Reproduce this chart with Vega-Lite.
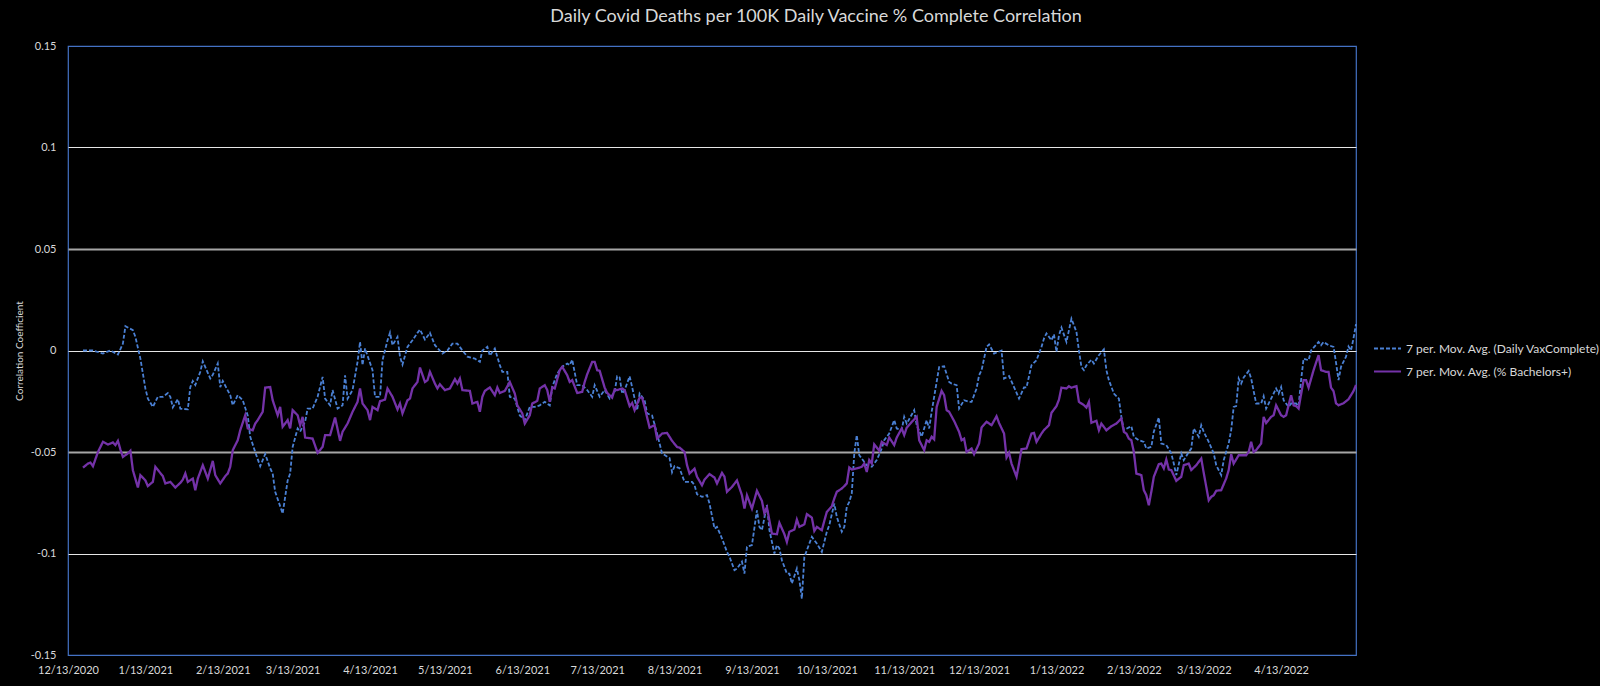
{
"$schema": "https://vega.github.io/schema/vega-lite/v6.json",
"width": 1288, "height": 609,
"autosize": "none",
"padding": {"left": 68, "top": 46, "right": 244, "bottom": 31},
"background": "#000000",
"title": {"text": "Daily Covid Deaths per 100K Daily Vaccine % Complete Correlation", "color": "#d9d9d9", "fontSize": 18, "font": "Lato", "fontWeight": "normal", "anchor": "middle", "dx": 104, "offset": 14},
"config": {"view": {"stroke": "#4472C4", "strokeWidth": 1.2}, "font": "Lato"},
"datasets": {
"vax": [
{"date":"2020-12-19","v":0},{"date":"2020-12-23","v":0},{"date":"2020-12-27","v":-0.0015},{"date":"2020-12-30","v":0},
{"date":"2021-01-02","v":-0.002},{"date":"2021-01-04","v":0.0034},{"date":"2021-01-05","v":0.012},{"date":"2021-01-08","v":0.010},{"date":"2021-01-09","v":0.0067},{"date":"2021-01-11","v":-0.004},{"date":"2021-01-13","v":-0.0187},{"date":"2021-01-14","v":-0.0237},{"date":"2021-01-16","v":-0.0278},{"date":"2021-01-18","v":-0.0228},{"date":"2021-01-20","v":-0.0228},{"date":"2021-01-22","v":-0.021},{"date":"2021-01-23","v":-0.0228},{"date":"2021-01-24","v":-0.028},{"date":"2021-01-26","v":-0.024},{"date":"2021-01-27","v":-0.0286},{"date":"2021-01-30","v":-0.029},{"date":"2021-01-31","v":-0.018},
{"date":"2021-02-01","v":-0.015},{"date":"2021-02-02","v":-0.017},{"date":"2021-02-04","v":-0.0105},{"date":"2021-02-05","v":-0.0053},{"date":"2021-02-08","v":-0.0138},{"date":"2021-02-09","v":-0.012},{"date":"2021-02-11","v":-0.0064},{"date":"2021-02-12","v":-0.018},{"date":"2021-02-13","v":-0.015},{"date":"2021-02-16","v":-0.022},{"date":"2021-02-17","v":-0.027},{"date":"2021-02-19","v":-0.022},{"date":"2021-02-21","v":-0.0245},{"date":"2021-02-23","v":-0.032},{"date":"2021-02-24","v":-0.0425},{"date":"2021-02-26","v":-0.05},{"date":"2021-02-28","v":-0.057},
{"date":"2021-03-02","v":-0.051},{"date":"2021-03-04","v":-0.058},{"date":"2021-03-05","v":-0.0606},{"date":"2021-03-06","v":-0.0696},{"date":"2021-03-09","v":-0.0803},{"date":"2021-03-11","v":-0.064},{"date":"2021-03-12","v":-0.0606},{"date":"2021-03-13","v":-0.0475},{"date":"2021-03-15","v":-0.0384},{"date":"2021-03-16","v":-0.040},{"date":"2021-03-18","v":-0.035},{"date":"2021-03-19","v":-0.0286},{"date":"2021-03-21","v":-0.0286},{"date":"2021-03-23","v":-0.0228},{"date":"2021-03-25","v":-0.013},{"date":"2021-03-26","v":-0.0237},{"date":"2021-03-28","v":-0.027},{"date":"2021-03-29","v":-0.0195},{"date":"2021-03-31","v":-0.0286},
{"date":"2021-04-02","v":-0.027},{"date":"2021-04-03","v":-0.0122},{"date":"2021-04-04","v":-0.0237},{"date":"2021-04-06","v":-0.0195},{"date":"2021-04-08","v":-0.0056},{"date":"2021-04-09","v":0.0042},{"date":"2021-04-10","v":-0.0072},{"date":"2021-04-11","v":0.001},{"date":"2021-04-14","v":-0.0097},{"date":"2021-04-15","v":-0.0228},{"date":"2021-04-17","v":-0.0228},{"date":"2021-04-18","v":-0.0048},{"date":"2021-04-20","v":0.005},{"date":"2021-04-21","v":0.0088},{"date":"2021-04-22","v":0.0026},{"date":"2021-04-24","v":0.0067},{"date":"2021-04-25","v":-0.0031},{"date":"2021-04-26","v":-0.007},{"date":"2021-04-28","v":0.0018},{"date":"2021-04-30","v":0.005},
{"date":"2021-05-02","v":0.0087},{"date":"2021-05-03","v":0.0103},{"date":"2021-05-05","v":0.0054},{"date":"2021-05-07","v":0.0087},{"date":"2021-05-09","v":0.0026},{"date":"2021-05-12","v":-0.0015},{"date":"2021-05-14","v":0},{"date":"2021-05-16","v":0.0034},{"date":"2021-05-18","v":0.0034},{"date":"2021-05-20","v":0},{"date":"2021-05-22","v":-0.003},{"date":"2021-05-25","v":-0.004},{"date":"2021-05-27","v":-0.0056},{"date":"2021-05-28","v":0},{"date":"2021-05-30","v":0.0018},{"date":"2021-05-31","v":-0.0025},
{"date":"2021-06-02","v":0.001},{"date":"2021-06-04","v":-0.0072},{"date":"2021-06-05","v":-0.0105},{"date":"2021-06-07","v":-0.0105},{"date":"2021-06-08","v":-0.0228},{"date":"2021-06-10","v":-0.0237},{"date":"2021-06-12","v":-0.032},{"date":"2021-06-14","v":-0.0343},{"date":"2021-06-16","v":-0.0278},{"date":"2021-06-18","v":-0.0278},{"date":"2021-06-20","v":-0.027},{"date":"2021-06-22","v":-0.0253},{"date":"2021-06-24","v":-0.027},{"date":"2021-06-25","v":-0.018},{"date":"2021-06-27","v":-0.0113},{"date":"2021-06-29","v":-0.008},
{"date":"2021-07-01","v":-0.0064},{"date":"2021-07-02","v":-0.0072},{"date":"2021-07-03","v":-0.0045},{"date":"2021-07-05","v":-0.0171},{"date":"2021-07-07","v":-0.0171},{"date":"2021-07-09","v":-0.0195},{"date":"2021-07-11","v":-0.0228},{"date":"2021-07-12","v":-0.0171},{"date":"2021-07-14","v":-0.0228},{"date":"2021-07-16","v":-0.0195},{"date":"2021-07-18","v":-0.0237},{"date":"2021-07-20","v":-0.0205},{"date":"2021-07-21","v":-0.0127},{"date":"2021-07-22","v":-0.0133},{"date":"2021-07-23","v":-0.0212},{"date":"2021-07-24","v":-0.0195},{"date":"2021-07-26","v":-0.0127},{"date":"2021-07-27","v":-0.018},{"date":"2021-07-29","v":-0.0294},{"date":"2021-07-30","v":-0.0212},
{"date":"2021-08-01","v":-0.0245},{"date":"2021-08-02","v":-0.031},{"date":"2021-08-04","v":-0.032},{"date":"2021-08-06","v":-0.041},{"date":"2021-08-08","v":-0.0507},{"date":"2021-08-11","v":-0.053},{"date":"2021-08-12","v":-0.06},{"date":"2021-08-13","v":-0.057},{"date":"2021-08-15","v":-0.058},{"date":"2021-08-17","v":-0.0647},{"date":"2021-08-20","v":-0.0647},{"date":"2021-08-21","v":-0.0663},{"date":"2021-08-22","v":-0.0708},{"date":"2021-08-24","v":-0.0721},{"date":"2021-08-26","v":-0.0713},{"date":"2021-08-27","v":-0.0754},{"date":"2021-08-29","v":-0.0877},{"date":"2021-08-30","v":-0.0869},
{"date":"2021-09-01","v":-0.0926},{"date":"2021-09-03","v":-0.0992},{"date":"2021-09-04","v":-0.1016},{"date":"2021-09-06","v":-0.1082},{"date":"2021-09-07","v":-0.1074},{"date":"2021-09-09","v":-0.104},{"date":"2021-09-10","v":-0.1099},{"date":"2021-09-11","v":-0.0967},{"date":"2021-09-13","v":-0.0959},{"date":"2021-09-15","v":-0.0787},{"date":"2021-09-16","v":-0.0869},{"date":"2021-09-17","v":-0.0885},{"date":"2021-09-19","v":-0.0762},{"date":"2021-09-20","v":-0.0885},{"date":"2021-09-22","v":-0.1},{"date":"2021-09-23","v":-0.0959},{"date":"2021-09-24","v":-0.0975},{"date":"2021-09-25","v":-0.1033},{"date":"2021-09-27","v":-0.1099},{"date":"2021-09-28","v":-0.1099},{"date":"2021-09-29","v":-0.1148},
{"date":"2021-10-01","v":-0.1074},{"date":"2021-10-02","v":-0.1131},{"date":"2021-10-03","v":-0.1222},{"date":"2021-10-04","v":-0.1017},{"date":"2021-10-05","v":-0.0984},{"date":"2021-10-07","v":-0.0918},{"date":"2021-10-09","v":-0.0951},{"date":"2021-10-11","v":-0.0992},{"date":"2021-10-13","v":-0.0893},{"date":"2021-10-14","v":-0.086},{"date":"2021-10-16","v":-0.0754},{"date":"2021-10-17","v":-0.082},{"date":"2021-10-19","v":-0.0893},{"date":"2021-10-20","v":-0.0869},{"date":"2021-10-21","v":-0.077},{"date":"2021-10-22","v":-0.0746},{"date":"2021-10-23","v":-0.0704},{"date":"2021-10-24","v":-0.0507},{"date":"2021-10-25","v":-0.0417},{"date":"2021-10-26","v":-0.0516},{"date":"2021-10-27","v":-0.0532},{"date":"2021-10-29","v":-0.0565},{"date":"2021-10-31","v":-0.0573},
{"date":"2021-11-01","v":-0.0557},{"date":"2021-11-02","v":-0.054},{"date":"2021-11-04","v":-0.0483},{"date":"2021-11-05","v":-0.0442},{"date":"2021-11-07","v":-0.0409},{"date":"2021-11-09","v":-0.0343},{"date":"2021-11-10","v":-0.0384},{"date":"2021-11-12","v":-0.0392},{"date":"2021-11-13","v":-0.0327},{"date":"2021-11-14","v":-0.036},{"date":"2021-11-17","v":-0.0294},{"date":"2021-11-18","v":-0.0368},{"date":"2021-11-20","v":-0.0425},{"date":"2021-11-22","v":-0.0343},{"date":"2021-11-23","v":-0.0384},{"date":"2021-11-24","v":-0.0302},{"date":"2021-11-26","v":-0.0155},{"date":"2021-11-27","v":-0.0081},{"date":"2021-11-29","v":-0.0078},
{"date":"2021-12-01","v":-0.0155},{"date":"2021-12-02","v":-0.0163},{"date":"2021-12-04","v":-0.0171},{"date":"2021-12-05","v":-0.0286},{"date":"2021-12-07","v":-0.0245},{"date":"2021-12-09","v":-0.0253},{"date":"2021-12-10","v":-0.0253},{"date":"2021-12-12","v":-0.0187},{"date":"2021-12-13","v":-0.0122},{"date":"2021-12-14","v":-0.0097},{"date":"2021-12-16","v":0.0018},{"date":"2021-12-17","v":0.003},{"date":"2021-12-19","v":-0.0015},{"date":"2021-12-22","v":0},{"date":"2021-12-23","v":-0.0138},{"date":"2021-12-25","v":-0.0126},{"date":"2021-12-27","v":-0.018},{"date":"2021-12-29","v":-0.0237},{"date":"2021-12-31","v":-0.0182},
{"date":"2022-01-01","v":-0.0182},{"date":"2022-01-03","v":-0.0072},{"date":"2022-01-05","v":-0.0048},{"date":"2022-01-07","v":0.0018},{"date":"2022-01-08","v":0.0059},{"date":"2022-01-09","v":0.0084},{"date":"2022-01-11","v":0.005},{"date":"2022-01-12","v":0.008},{"date":"2022-01-13","v":-0.0007},{"date":"2022-01-14","v":0.0075},{"date":"2022-01-15","v":0.0113},{"date":"2022-01-17","v":0.0042},{"date":"2022-01-19","v":0.0157},{"date":"2022-01-21","v":0.0092},{"date":"2022-01-22","v":0},{"date":"2022-01-23","v":-0.0081},{"date":"2022-01-24","v":-0.0097},{"date":"2022-01-25","v":-0.0073},{"date":"2022-01-27","v":-0.0045},{"date":"2022-01-28","v":-0.0064},{"date":"2022-01-30","v":-0.0023},
{"date":"2022-02-01","v":0.0006},{"date":"2022-02-02","v":-0.0097},{"date":"2022-02-03","v":-0.0146},{"date":"2022-02-05","v":-0.0212},{"date":"2022-02-07","v":-0.0237},{"date":"2022-02-08","v":-0.0327},{"date":"2022-02-09","v":-0.0392},{"date":"2022-02-12","v":-0.0373},{"date":"2022-02-13","v":-0.0425},{"date":"2022-02-15","v":-0.0442},{"date":"2022-02-17","v":-0.045},{"date":"2022-02-18","v":-0.0483},{"date":"2022-02-20","v":-0.0475},{"date":"2022-02-21","v":-0.04},{"date":"2022-02-23","v":-0.033},{"date":"2022-02-24","v":-0.0458},{"date":"2022-02-26","v":-0.0466},{"date":"2022-02-28","v":-0.0507},
{"date":"2022-03-01","v":-0.0557},{"date":"2022-03-02","v":-0.0614},{"date":"2022-03-04","v":-0.0507},{"date":"2022-03-05","v":-0.054},{"date":"2022-03-07","v":-0.05},{"date":"2022-03-08","v":-0.0483},{"date":"2022-03-09","v":-0.0384},{"date":"2022-03-11","v":-0.0425},{"date":"2022-03-12","v":-0.0368},{"date":"2022-03-13","v":-0.0401},{"date":"2022-03-15","v":-0.045},{"date":"2022-03-17","v":-0.0507},{"date":"2022-03-18","v":-0.0565},{"date":"2022-03-20","v":-0.0614},{"date":"2022-03-21","v":-0.054},{"date":"2022-03-23","v":-0.0458},{"date":"2022-03-24","v":-0.0392},{"date":"2022-03-25","v":-0.0278},{"date":"2022-03-26","v":-0.0274},{"date":"2022-03-27","v":-0.0138},{"date":"2022-03-28","v":-0.0163},{"date":"2022-03-29","v":-0.0133},{"date":"2022-03-31","v":-0.0101},
{"date":"2022-04-01","v":-0.0138},{"date":"2022-04-03","v":-0.0261},{"date":"2022-04-05","v":-0.0261},{"date":"2022-04-06","v":-0.0225},{"date":"2022-04-07","v":-0.0286},{"date":"2022-04-09","v":-0.0237},{"date":"2022-04-11","v":-0.0187},{"date":"2022-04-12","v":-0.0212},{"date":"2022-04-13","v":-0.018},{"date":"2022-04-14","v":-0.0245},{"date":"2022-04-16","v":-0.0278},{"date":"2022-04-17","v":-0.0261},{"date":"2022-04-19","v":-0.0261},{"date":"2022-04-20","v":-0.0274},{"date":"2022-04-21","v":-0.0146},{"date":"2022-04-22","v":-0.004},{"date":"2022-04-24","v":-0.0048},{"date":"2022-04-25","v":0},{"date":"2022-04-28","v":0.0042},{"date":"2022-04-29","v":0.0026},{"date":"2022-04-30","v":0.0042},
{"date":"2022-05-02","v":0.0026},{"date":"2022-05-04","v":0.0018},{"date":"2022-05-05","v":-0.006},{"date":"2022-05-06","v":-0.0146},{"date":"2022-05-07","v":-0.008},{"date":"2022-05-09","v":-0.003},{"date":"2022-05-10","v":0.002},{"date":"2022-05-11","v":0},{"date":"2022-05-12","v":0.006},{"date":"2022-05-13","v":0.013}
],
"bach": [
{"date":"2020-12-19","v":-0.0577},{"date":"2020-12-21","v":-0.0557},{"date":"2020-12-22","v":-0.0552},{"date":"2020-12-23","v":-0.057},{"date":"2020-12-25","v":-0.05},{"date":"2020-12-27","v":-0.045},{"date":"2020-12-29","v":-0.0463},{"date":"2020-12-31","v":-0.0453},
{"date":"2021-01-01","v":-0.0466},{"date":"2021-01-02","v":-0.0445},{"date":"2021-01-03","v":-0.0488},{"date":"2021-01-04","v":-0.0524},{"date":"2021-01-06","v":-0.0507},{"date":"2021-01-07","v":-0.0494},{"date":"2021-01-08","v":-0.059},{"date":"2021-01-10","v":-0.0675},{"date":"2021-01-11","v":-0.0614},{"date":"2021-01-13","v":-0.064},{"date":"2021-01-14","v":-0.0668},{"date":"2021-01-16","v":-0.0647},{"date":"2021-01-17","v":-0.0573},{"date":"2021-01-20","v":-0.0619},{"date":"2021-01-21","v":-0.0655},{"date":"2021-01-23","v":-0.0647},{"date":"2021-01-25","v":-0.0675},{"date":"2021-01-27","v":-0.0652},{"date":"2021-01-28","v":-0.0636},{"date":"2021-01-29","v":-0.0606},{"date":"2021-01-30","v":-0.0647},
{"date":"2021-02-01","v":-0.0631},{"date":"2021-02-02","v":-0.0688},{"date":"2021-02-03","v":-0.0631},{"date":"2021-02-05","v":-0.0565},{"date":"2021-02-07","v":-0.0631},{"date":"2021-02-09","v":-0.0544},{"date":"2021-02-10","v":-0.0614},{"date":"2021-02-12","v":-0.0655},{"date":"2021-02-14","v":-0.0619},{"date":"2021-02-15","v":-0.0606},{"date":"2021-02-16","v":-0.0573},{"date":"2021-02-17","v":-0.0491},{"date":"2021-02-19","v":-0.0442},{"date":"2021-02-20","v":-0.0393},{"date":"2021-02-22","v":-0.0319},{"date":"2021-02-23","v":-0.0384},{"date":"2021-02-25","v":-0.0393},{"date":"2021-02-26","v":-0.036},{"date":"2021-02-27","v":-0.0343},
{"date":"2021-03-01","v":-0.0302},{"date":"2021-03-02","v":-0.0183},{"date":"2021-03-04","v":-0.018},{"date":"2021-03-05","v":-0.0245},{"date":"2021-03-07","v":-0.0319},{"date":"2021-03-08","v":-0.0278},{"date":"2021-03-09","v":-0.0376},{"date":"2021-03-11","v":-0.0343},{"date":"2021-03-12","v":-0.0384},{"date":"2021-03-13","v":-0.0294},{"date":"2021-03-15","v":-0.0319},{"date":"2021-03-16","v":-0.0368},{"date":"2021-03-17","v":-0.0327},{"date":"2021-03-18","v":-0.0429},{"date":"2021-03-21","v":-0.0434},{"date":"2021-03-23","v":-0.0504},{"date":"2021-03-25","v":-0.0475},{"date":"2021-03-26","v":-0.0417},{"date":"2021-03-28","v":-0.0417},{"date":"2021-03-30","v":-0.033},
{"date":"2021-04-01","v":-0.0445},{"date":"2021-04-02","v":-0.04},{"date":"2021-04-04","v":-0.036},{"date":"2021-04-06","v":-0.0302},{"date":"2021-04-08","v":-0.0253},{"date":"2021-04-09","v":-0.0187},{"date":"2021-04-10","v":-0.0261},{"date":"2021-04-12","v":-0.0294},{"date":"2021-04-13","v":-0.0343},{"date":"2021-04-14","v":-0.0278},{"date":"2021-04-16","v":-0.0294},{"date":"2021-04-17","v":-0.025},{"date":"2021-04-19","v":-0.0242},{"date":"2021-04-20","v":-0.0187},{"date":"2021-04-22","v":-0.0228},{"date":"2021-04-24","v":-0.029},{"date":"2021-04-25","v":-0.0261},{"date":"2021-04-26","v":-0.031},{"date":"2021-04-28","v":-0.0245},{"date":"2021-04-29","v":-0.0237},{"date":"2021-04-30","v":-0.0187},
{"date":"2021-05-02","v":-0.0155},{"date":"2021-05-03","v":-0.0084},{"date":"2021-05-05","v":-0.0155},{"date":"2021-05-06","v":-0.0147},{"date":"2021-05-07","v":-0.0105},{"date":"2021-05-09","v":-0.0163},{"date":"2021-05-10","v":-0.0187},{"date":"2021-05-11","v":-0.0166},{"date":"2021-05-13","v":-0.0195},{"date":"2021-05-15","v":-0.0187},{"date":"2021-05-17","v":-0.0141},{"date":"2021-05-18","v":-0.0163},{"date":"2021-05-19","v":-0.0138},{"date":"2021-05-20","v":-0.0195},{"date":"2021-05-23","v":-0.0199},{"date":"2021-05-24","v":-0.0261},{"date":"2021-05-26","v":-0.0253},{"date":"2021-05-27","v":-0.0302},{"date":"2021-05-28","v":-0.0228},{"date":"2021-05-29","v":-0.0199},{"date":"2021-05-31","v":-0.0182},
{"date":"2021-06-02","v":-0.022},{"date":"2021-06-03","v":-0.0182},{"date":"2021-06-04","v":-0.0209},{"date":"2021-06-06","v":-0.0199},{"date":"2021-06-08","v":-0.0155},{"date":"2021-06-10","v":-0.0212},{"date":"2021-06-11","v":-0.027},{"date":"2021-06-13","v":-0.031},{"date":"2021-06-14","v":-0.036},{"date":"2021-06-16","v":-0.0319},{"date":"2021-06-17","v":-0.0261},{"date":"2021-06-19","v":-0.0248},{"date":"2021-06-20","v":-0.0187},{"date":"2021-06-22","v":-0.0171},{"date":"2021-06-23","v":-0.0195},{"date":"2021-06-24","v":-0.0253},{"date":"2021-06-25","v":-0.0182},{"date":"2021-06-26","v":-0.0187},{"date":"2021-06-28","v":-0.0097},{"date":"2021-06-29","v":-0.008},
{"date":"2021-07-01","v":-0.0122},{"date":"2021-07-02","v":-0.0155},{"date":"2021-07-03","v":-0.0146},{"date":"2021-07-05","v":-0.0209},{"date":"2021-07-07","v":-0.0204},{"date":"2021-07-08","v":-0.0155},{"date":"2021-07-09","v":-0.0117},{"date":"2021-07-11","v":-0.0056},{"date":"2021-07-12","v":-0.0056},{"date":"2021-07-13","v":-0.0097},{"date":"2021-07-14","v":-0.01},{"date":"2021-07-16","v":-0.0183},{"date":"2021-07-17","v":-0.0209},{"date":"2021-07-19","v":-0.0232},{"date":"2021-07-20","v":-0.0192},{"date":"2021-07-21","v":-0.0195},{"date":"2021-07-23","v":-0.0187},{"date":"2021-07-24","v":-0.0195},{"date":"2021-07-26","v":-0.0274},{"date":"2021-07-27","v":-0.0258},{"date":"2021-07-28","v":-0.0294},{"date":"2021-07-30","v":-0.0232},{"date":"2021-07-31","v":-0.0232},
{"date":"2021-08-01","v":-0.0278},{"date":"2021-08-03","v":-0.038},{"date":"2021-08-05","v":-0.0368},{"date":"2021-08-06","v":-0.0434},{"date":"2021-08-08","v":-0.0409},{"date":"2021-08-10","v":-0.0406},{"date":"2021-08-12","v":-0.0445},{"date":"2021-08-14","v":-0.0475},{"date":"2021-08-15","v":-0.0478},{"date":"2021-08-17","v":-0.05},{"date":"2021-08-18","v":-0.0565},{"date":"2021-08-19","v":-0.0606},{"date":"2021-08-21","v":-0.0582},{"date":"2021-08-22","v":-0.0622},{"date":"2021-08-24","v":-0.0664},{"date":"2021-08-25","v":-0.0636},{"date":"2021-08-27","v":-0.0609},{"date":"2021-08-29","v":-0.0626},{"date":"2021-08-30","v":-0.0655},
{"date":"2021-09-01","v":-0.0603},{"date":"2021-09-02","v":-0.0622},{"date":"2021-09-03","v":-0.0696},{"date":"2021-09-05","v":-0.0672},{"date":"2021-09-07","v":-0.064},{"date":"2021-09-09","v":-0.0713},{"date":"2021-09-10","v":-0.0779},{"date":"2021-09-11","v":-0.0713},{"date":"2021-09-13","v":-0.0779},{"date":"2021-09-15","v":-0.0691},{"date":"2021-09-17","v":-0.0741},{"date":"2021-09-18","v":-0.0803},{"date":"2021-09-19","v":-0.0773},{"date":"2021-09-21","v":-0.0902},{"date":"2021-09-23","v":-0.0905},{"date":"2021-09-24","v":-0.0849},{"date":"2021-09-26","v":-0.0905},{"date":"2021-09-27","v":-0.0943},{"date":"2021-09-28","v":-0.0893},{"date":"2021-09-30","v":-0.0882},
{"date":"2021-10-01","v":-0.0833},{"date":"2021-10-02","v":-0.0869},{"date":"2021-10-04","v":-0.0856},{"date":"2021-10-05","v":-0.0806},{"date":"2021-10-07","v":-0.0823},{"date":"2021-10-08","v":-0.0889},{"date":"2021-10-09","v":-0.0869},{"date":"2021-10-11","v":-0.0885},{"date":"2021-10-12","v":-0.0839},{"date":"2021-10-13","v":-0.0795},{"date":"2021-10-15","v":-0.0767},{"date":"2021-10-16","v":-0.0729},{"date":"2021-10-17","v":-0.0696},{"date":"2021-10-19","v":-0.068},{"date":"2021-10-20","v":-0.0668},{"date":"2021-10-21","v":-0.0655},{"date":"2021-10-22","v":-0.0576},{"date":"2021-10-23","v":-0.0586},{"date":"2021-10-25","v":-0.0581},{"date":"2021-10-27","v":-0.0573},{"date":"2021-10-28","v":-0.0557},{"date":"2021-10-29","v":-0.0598},{"date":"2021-10-30","v":-0.054},{"date":"2021-10-31","v":-0.0557},
{"date":"2021-11-01","v":-0.0462},{"date":"2021-11-03","v":-0.0494},{"date":"2021-11-04","v":-0.045},{"date":"2021-11-06","v":-0.0466},{"date":"2021-11-07","v":-0.0429},{"date":"2021-11-09","v":-0.0466},{"date":"2021-11-10","v":-0.0429},{"date":"2021-11-12","v":-0.0384},{"date":"2021-11-13","v":-0.0417},{"date":"2021-11-14","v":-0.038},{"date":"2021-11-16","v":-0.0352},{"date":"2021-11-18","v":-0.0327},{"date":"2021-11-19","v":-0.0442},{"date":"2021-11-21","v":-0.0491},{"date":"2021-11-22","v":-0.0442},{"date":"2021-11-23","v":-0.045},{"date":"2021-11-24","v":-0.0425},{"date":"2021-11-25","v":-0.0438},{"date":"2021-11-26","v":-0.0278},{"date":"2021-11-28","v":-0.0199},{"date":"2021-11-29","v":-0.022},{"date":"2021-11-30","v":-0.0294},
{"date":"2021-12-01","v":-0.0302},{"date":"2021-12-03","v":-0.0347},{"date":"2021-12-05","v":-0.0401},{"date":"2021-12-06","v":-0.0442},{"date":"2021-12-07","v":-0.0434},{"date":"2021-12-08","v":-0.05},{"date":"2021-12-10","v":-0.0483},{"date":"2021-12-11","v":-0.0511},{"date":"2021-12-13","v":-0.0458},{"date":"2021-12-14","v":-0.0379},{"date":"2021-12-16","v":-0.0351},{"date":"2021-12-18","v":-0.0368},{"date":"2021-12-20","v":-0.0324},{"date":"2021-12-21","v":-0.0357},{"date":"2021-12-23","v":-0.0409},{"date":"2021-12-24","v":-0.0527},{"date":"2021-12-25","v":-0.0504},{"date":"2021-12-26","v":-0.0557},{"date":"2021-12-28","v":-0.0622},{"date":"2021-12-29","v":-0.0557},{"date":"2021-12-30","v":-0.0486},
{"date":"2022-01-01","v":-0.0483},{"date":"2022-01-03","v":-0.0409},{"date":"2022-01-04","v":-0.0406},{"date":"2022-01-05","v":-0.045},{"date":"2022-01-07","v":-0.0409},{"date":"2022-01-08","v":-0.0392},{"date":"2022-01-10","v":-0.0368},{"date":"2022-01-11","v":-0.0307},{"date":"2022-01-13","v":-0.0274},{"date":"2022-01-14","v":-0.0242},{"date":"2022-01-15","v":-0.0183},{"date":"2022-01-17","v":-0.0187},{"date":"2022-01-18","v":-0.0176},{"date":"2022-01-19","v":-0.0183},{"date":"2022-01-21","v":-0.0176},{"date":"2022-01-22","v":-0.0253},{"date":"2022-01-24","v":-0.0269},{"date":"2022-01-25","v":-0.0281},{"date":"2022-01-26","v":-0.0253},{"date":"2022-01-27","v":-0.0356},{"date":"2022-01-29","v":-0.0346},{"date":"2022-01-30","v":-0.0393},{"date":"2022-01-31","v":-0.036},
{"date":"2022-02-02","v":-0.0393},{"date":"2022-02-04","v":-0.0373},{"date":"2022-02-06","v":-0.036},{"date":"2022-02-08","v":-0.0335},{"date":"2022-02-09","v":-0.0401},{"date":"2022-02-10","v":-0.0409},{"date":"2022-02-11","v":-0.0434},{"date":"2022-02-12","v":-0.0442},{"date":"2022-02-13","v":-0.05},{"date":"2022-02-14","v":-0.0606},{"date":"2022-02-16","v":-0.0614},{"date":"2022-02-17","v":-0.0688},{"date":"2022-02-18","v":-0.0713},{"date":"2022-02-19","v":-0.0762},{"date":"2022-02-20","v":-0.0696},{"date":"2022-02-21","v":-0.0622},{"date":"2022-02-23","v":-0.056},{"date":"2022-02-24","v":-0.0557},{"date":"2022-02-25","v":-0.0581},{"date":"2022-02-26","v":-0.0537},{"date":"2022-02-27","v":-0.0586},{"date":"2022-02-28","v":-0.0589},
{"date":"2022-03-02","v":-0.0642},{"date":"2022-03-04","v":-0.0622},{"date":"2022-03-05","v":-0.0565},{"date":"2022-03-07","v":-0.0557},{"date":"2022-03-08","v":-0.0589},{"date":"2022-03-10","v":-0.0565},{"date":"2022-03-12","v":-0.0532},{"date":"2022-03-13","v":-0.0603},{"date":"2022-03-15","v":-0.0738},{"date":"2022-03-16","v":-0.0721},{"date":"2022-03-17","v":-0.0713},{"date":"2022-03-18","v":-0.0691},{"date":"2022-03-20","v":-0.0688},{"date":"2022-03-22","v":-0.063},{"date":"2022-03-23","v":-0.0589},{"date":"2022-03-24","v":-0.0511},{"date":"2022-03-25","v":-0.0557},{"date":"2022-03-27","v":-0.0516},{"date":"2022-03-28","v":-0.0516},{"date":"2022-03-30","v":-0.0516},{"date":"2022-03-31","v":-0.05},
{"date":"2022-04-01","v":-0.045},{"date":"2022-04-02","v":-0.05},{"date":"2022-04-03","v":-0.0491},{"date":"2022-04-05","v":-0.0458},{"date":"2022-04-06","v":-0.0327},{"date":"2022-04-07","v":-0.0357},{"date":"2022-04-09","v":-0.0327},{"date":"2022-04-10","v":-0.0319},{"date":"2022-04-11","v":-0.027},{"date":"2022-04-13","v":-0.0319},{"date":"2022-04-14","v":-0.0327},{"date":"2022-04-15","v":-0.0319},{"date":"2022-04-17","v":-0.022},{"date":"2022-04-18","v":-0.027},{"date":"2022-04-19","v":-0.0274},{"date":"2022-04-20","v":-0.0286},{"date":"2022-04-22","v":-0.0146},{"date":"2022-04-23","v":-0.0146},{"date":"2022-04-24","v":-0.0183},{"date":"2022-04-26","v":-0.0097},{"date":"2022-04-28","v":-0.0023},{"date":"2022-04-29","v":-0.0097},
{"date":"2022-05-01","v":-0.0105},{"date":"2022-05-02","v":-0.0105},{"date":"2022-05-03","v":-0.0183},{"date":"2022-05-04","v":-0.02},{"date":"2022-05-05","v":-0.026},{"date":"2022-05-06","v":-0.027},{"date":"2022-05-08","v":-0.026},{"date":"2022-05-10","v":-0.024},{"date":"2022-05-12","v":-0.02},{"date":"2022-05-13","v":-0.017}
]
},
"encoding": {
  "x": {"field": "date", "type": "temporal",
    "scale": {"type": "utc", "domain": [{"year":2020,"month":12,"date":13,"utc":true},{"year":2022,"month":5,"date":13,"utc":true}], "nice": false},
    "axis": {"title": null, "format": "%-m/%-d/%Y", "labelColor": "#d9d9d9", "labelFontSize": 11, "labelFont": "Lato", "ticks": false, "domain": false, "grid": false, "labelPadding": 9, "labelOverlap": false, "labelFlush": false,
      "values": [{"year":2020,"month":12,"date":13,"utc":true},{"year":2021,"month":1,"date":13,"utc":true},{"year":2021,"month":2,"date":13,"utc":true},{"year":2021,"month":3,"date":13,"utc":true},{"year":2021,"month":4,"date":13,"utc":true},{"year":2021,"month":5,"date":13,"utc":true},{"year":2021,"month":6,"date":13,"utc":true},{"year":2021,"month":7,"date":13,"utc":true},{"year":2021,"month":8,"date":13,"utc":true},{"year":2021,"month":9,"date":13,"utc":true},{"year":2021,"month":10,"date":13,"utc":true},{"year":2021,"month":11,"date":13,"utc":true},{"year":2021,"month":12,"date":13,"utc":true},{"year":2022,"month":1,"date":13,"utc":true},{"year":2022,"month":2,"date":13,"utc":true},{"year":2022,"month":3,"date":13,"utc":true},{"year":2022,"month":4,"date":13,"utc":true}]}},
  "y": {"field": "v", "type": "quantitative",
    "scale": {"domain": [-0.15, 0.15], "nice": false, "zero": false},
    "axis": {"title": "Correlation Coefficient", "titleColor": "#d9d9d9", "titleFontSize": 10, "titleFontWeight": "normal", "titleFont": "Lato", "titlePadding": 6,
      "values": [-0.15, -0.1, -0.05, 0, 0.05, 0.1, 0.15], "labelExpr": "'' + datum.value",
      "labelColor": "#d9d9d9", "labelFontSize": 11, "labelFont": "Lato", "ticks": false, "domain": false, "labelPadding": 12,
      "grid": true,
      "gridColor": {"condition": {"test": "abs(datum.value) == 0.05", "value": "#a6a6a6"}, "value": "#e6e6e6"},
      "gridWidth": {"condition": {"test": "abs(datum.value) == 0.05", "value": 2}, "value": 1.2},
      "gridOpacity": {"condition": {"test": "abs(datum.value) == 0.15", "value": 0}, "value": 1}}}
},
"layer": [
  {"data": {"name": "vax"}, "mark": {"type": "line", "strokeWidth": 1.8},
   "encoding": {
     "color": {"datum": "7 per. Mov. Avg. (Daily VaxComplete)", "scale": {"domain": ["7 per. Mov. Avg. (Daily VaxComplete)", "7 per. Mov. Avg. (% Bachelors+)"], "range": ["#4a80d4", "#7432a8"]},
       "legend": {"title": null, "orient": "none", "legendX": 1305, "legendY": 288, "symbolType": "stroke", "symbolSize": 729, "symbolStrokeWidth": 2, "labelColor": "#d9d9d9", "labelFontSize": 12, "labelFont": "Lato", "labelLimit": 400, "rowPadding": 2, "padding": 0, "labelOffset": 4}},
     "strokeDash": {"datum": "7 per. Mov. Avg. (Daily VaxComplete)", "scale": {"domain": ["7 per. Mov. Avg. (Daily VaxComplete)", "7 per. Mov. Avg. (% Bachelors+)"], "range": [[4, 2], [1, 0]]},
       "legend": {"title": null, "orient": "none", "legendX": 1305, "legendY": 288, "symbolType": "stroke", "symbolSize": 729, "symbolStrokeWidth": 2, "labelColor": "#d9d9d9", "labelFontSize": 12, "labelFont": "Lato", "labelLimit": 400, "rowPadding": 2, "padding": 0, "labelOffset": 4}}}},
  {"data": {"name": "bach"}, "mark": {"type": "line", "strokeWidth": 2.3},
   "encoding": {
     "color": {"datum": "7 per. Mov. Avg. (% Bachelors+)"},
     "strokeDash": {"datum": "7 per. Mov. Avg. (% Bachelors+)"}}}
]
}
